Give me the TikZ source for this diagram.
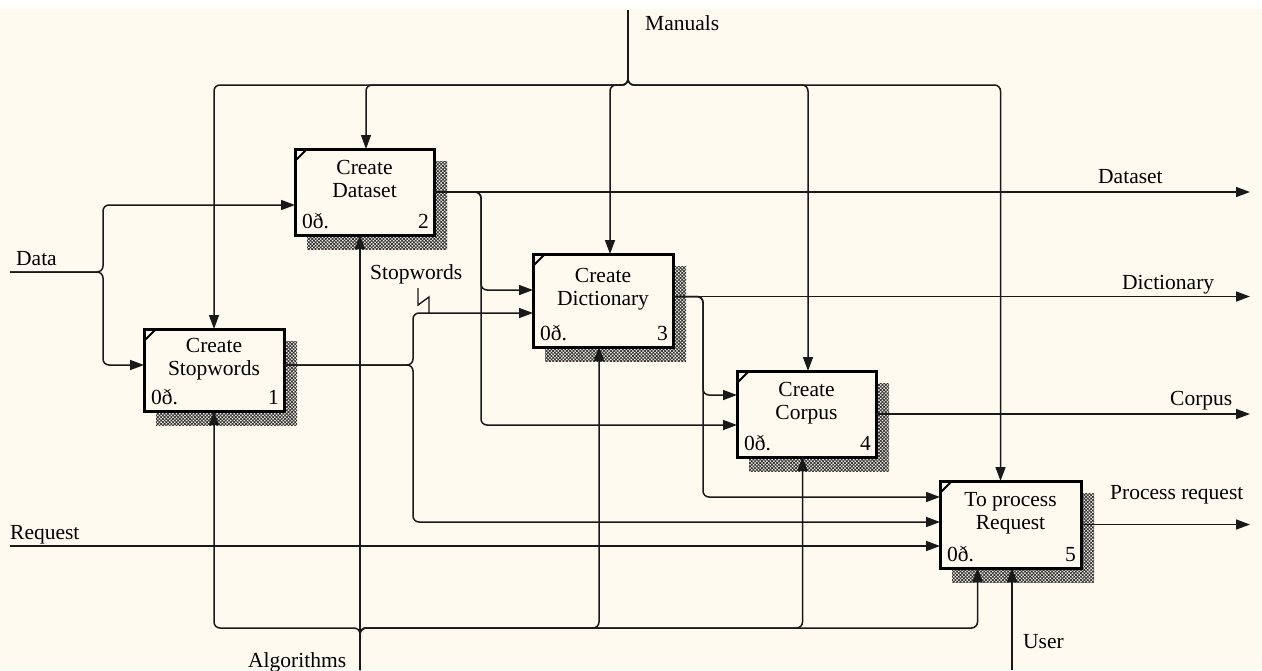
\documentclass[tikz,border=0pt]{standalone}
\usepackage{fontspec}
\setmainfont{Liberation Serif}
\usetikzlibrary{arrows.meta,patterns.meta}
\definecolor{paper}{RGB}{255,250,240}
\tikzset{
  x=1pt, y=-1pt,
  conn/.style={line width=1.5pt, draw=black!90, rounded corners=6pt},
  flow/.style={conn, -{Triangle[length=14pt,width=10pt]}},
  shadowfill/.style={pattern={Hatch[angle=45,distance=2.4pt,line width=0.8pt]}, pattern color=black!80},
  fnbox/.style={draw, line width=3pt, fill=paper, inner sep=0pt, outer sep=0pt, anchor=north west},
  txt/.style={font=\fontsize{21.5}{24}\selectfont, inner sep=0pt, text=black},
}
% #1 name, #2 left, #3 top, #4 right, #5 bottom, #6 first line, #7 second line, #8 number
\newcommand\funcbox[8]{%
  \fill[shadowfill] (#2+12,#3+12) rectangle (#4+13,#5+14);
  \node[fnbox, minimum width={#4-#2}, minimum height={#5-#3}] (#1) at (#2,#3) {};
  \draw[line width=2pt] (#2,#3+12) -- (#2+12,#3);
  \node[txt, anchor=base] (#1-a) at ({(#2+#4)/2},{(#3+#5)/2-18}) {#6};
  \node[txt, anchor=base] (#1-b) at ({(#2+#4)/2},{(#3+#5)/2+5}) {#7};
  \node[txt, anchor=base west] (#1-c) at (#2+7,#5-7) {0ð.};
  \node[txt, anchor=base east] (#1-n) at (#4-5,#5-7) {#8};
}
\begin{document}
\begin{tikzpicture}
\useasboundingbox (0,0) rectangle (1262,670);
\fill[paper] (0,0) rectangle (1262,670);
\fill[white] (0,0) rectangle (1262,9);

% activity boxes
\funcbox{b1}{144}{329}{284}{411}{Create}{Stopwords}{1}
\funcbox{b2}{295}{149}{434}{235}{Create}{Dataset}{2}
\funcbox{b3}{533}{254}{673}{347}{Create}{Dictionary}{3}
\funcbox{b4}{737}{371}{876}{457}{Create}{Corpus}{4}
\funcbox{b5}{940}{481}{1081}{568}{To process}{Request}{5}

% boundary points and bend columns
\coordinate (manT) at (628,10);
\coordinate (manJ) at (628,85);
\coordinate (algB) at (360,670);
\coordinate (algJ) at (360,628);
\coordinate (userB) at (1012,670);
\coordinate (dataL) at (10,272);
\coordinate (dataJ) at (103,272);
\coordinate (reqL) at (10,546);
\coordinate (outX) at (1250,0);
\coordinate (c2) at (481,0);
\coordinate (c1) at (413,0);
\coordinate (c3) at (703,0);

% controls: Manuals
\draw[flow] (manT) -- (manJ) -| (b1.north);
\draw[flow] (manT) -- (manJ) -| ([xshift=1.5pt]b2.north);
\draw[flow] (manT) -- (manJ) -| ([xshift=7pt]b3.north);
\draw[flow] (manT) -- (manJ) -| ([xshift=1.5pt]b4.north);
\draw[flow] (manT) -- (manJ) -| ([xshift=-10pt]b5.north);

% mechanisms: Algorithms and User
\draw[flow] (algB) -- ([xshift=-4.5pt]b2.south);
\draw[flow] (algB) -- (algJ) -| (b1.south);
\draw[flow] (algB) -- (algJ) -| ([xshift=-4pt]b3.south);
\draw[flow] (algB) -- (algJ) -| ([xshift=-4pt]b4.south);
\draw[flow] (algB) -- (algJ) -| ([xshift=-33pt]b5.south);
\draw[flow] (userB) -- (userB |- b5.south);

% inputs
\draw[flow] (dataL) -- (dataJ) |- ([yshift=-13pt]b2.west);
\draw[flow] (dataL) -- (dataJ) |- ([yshift=5pt]b1.west);
\draw[flow] (reqL) -- (reqL -| b5.west);

% box 2 output
\coordinate (o2) at (b2.east);
\draw[flow] (o2) -- (o2 -| outX);
\draw[flow] (o2) -- (o2 -| c2) |- ([yshift=10.5pt]b3.west);
\draw[flow] (o2) -- (o2 -| c2) |- ([yshift=-11pt]b4.west);

% box 1 output
\coordinate (o1) at ([yshift=5pt]b1.east);
\draw[flow] (o1) -- (o1 -| c1) |- ([yshift=-12.5pt]b3.west);
\draw[flow] (o1) -- (o1 -| c1) |- ([yshift=2.5pt]b5.west);

% box 3 output
\coordinate (o3) at ([yshift=4pt]b3.east);
\draw[flow] (o3) -- (o3 -| outX);
\draw[flow] (o3) -- (o3 -| c3) |- ([yshift=19pt]b4.west);
\draw[flow] (o3) -- (o3 -| c3) |- ([yshift=27.5pt]b5.west);

% box 4 and box 5 outputs
\draw[flow] (b4.east) -- (b4.east -| outX);
\draw[flow] (b5.east) -- (b5.east -| outX);

% squiggle tying the label to its arrow
\draw[line width=1.4pt, black!90] (418,288) -- (418,305) -- (429,297) -- (429,313);

% arrow labels
\node[txt, anchor=base west] (lman) at (645,30) {Manuals};
\node[txt, anchor=base west] (ldata) at (16,265) {Data};
\node[txt, anchor=base west] (lreq) at (10,539) {Request};
\node[txt, anchor=base west] (lalg) at (248,667) {Algorithms};
\node[txt, anchor=base west] (luser) at (1023,648) {User};
\node[txt, anchor=base west] (lstop) at (370,279) {Stopwords};
\node[txt, anchor=base west] (lds) at (1098,183) {Dataset};
\node[txt, anchor=base west] (ldict) at (1122,289) {Dictionary};
\node[txt, anchor=base west] (lcorp) at (1170,405) {Corpus};
\node[txt, anchor=base west] (lproc) at (1110,499) {Process request};
\end{tikzpicture}
\end{document}
